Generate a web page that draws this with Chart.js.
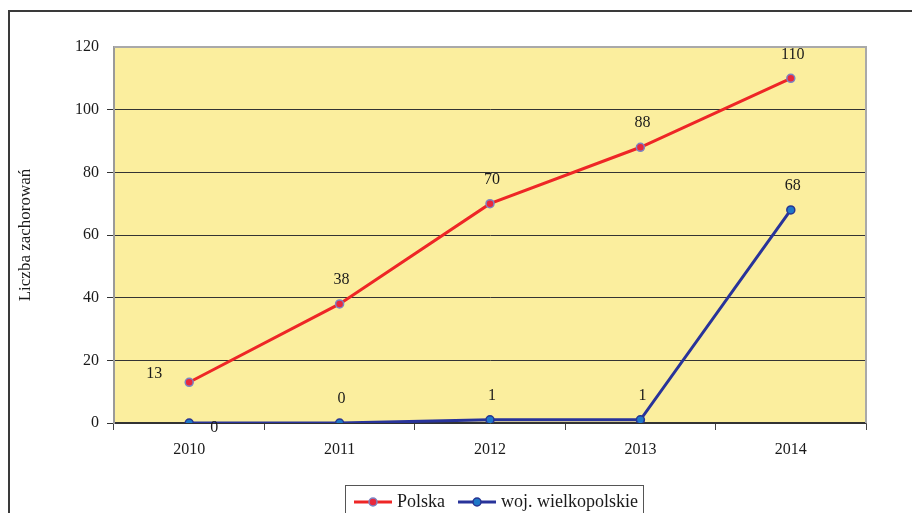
<!DOCTYPE html>
<html>
<head>
<meta charset="utf-8">
<script src="https://cdn.jsdelivr.net/npm/chart.js@4/dist/chart.umd.min.js"></script>
<style>
  html,body{margin:0;padding:0;background:#fff;overflow:hidden}
  #wrap{position:relative;width:912px;height:513px}
  #frame{position:absolute;left:8px;top:10px;width:1000px;height:600px;border:2px solid #3a3a3a;box-sizing:border-box}
  #c{position:absolute;left:0;top:0}
</style>
</head>
<body>
<div id="wrap">
  <div id="frame"></div>
  <canvas id="c" width="912" height="513"></canvas>
</div>
<script>
const years = ['2010','2011','2012','2013','2014'];
const polska = [13, 38, 70, 88, 110];
const wielkopolskie = [0, 0, 1, 1, 68];
const yTicks = [0, 20, 40, 60, 80, 100, 120];

const SERIF = "'Liberation Serif','Times New Roman',serif";
const PLOT_BG = '#fbee9e';

// tło obszaru wykresu + szara ramka góra/prawo
const plotBg = {
  id:'plotBg',
  beforeDraw(chart){
    const {ctx, chartArea:a} = chart;
    ctx.save();
    ctx.fillStyle = PLOT_BG;
    ctx.fillRect(a.left, a.top, a.right-a.left, a.bottom-a.top);
    ctx.restore();
  },
  beforeDatasetsDraw(chart){
    const {ctx, chartArea:a} = chart;
    ctx.save();
    ctx.strokeStyle = '#a9a9a9';
    ctx.lineWidth = 2;
    ctx.beginPath();
    ctx.moveTo(a.left, a.top);
    ctx.lineTo(a.right, a.top);
    ctx.lineTo(a.right, a.bottom);
    ctx.stroke();
    ctx.restore();
  }
};

// etykiety wartości nad punktami
const valueLabels = {
  id:'valueLabels',
  afterDatasetsDraw(chart){
    const {ctx} = chart;
    ctx.save();
    ctx.font = '16px ' + SERIF;
    ctx.fillStyle = '#1a1a1a';
    ctx.textAlign = 'center';
    ctx.textBaseline = 'middle';
    chart.data.datasets.forEach((ds, di)=>{
      chart.getDatasetMeta(di).data.forEach((pt, i)=>{
        let dx = 2, dy = -24;
        if(di===0 && i===0){ dx = -35; dy = -8; }   // 13 – obok punktu, z lewej
        if(di===1 && i===0){ dx = 25; dy = 5; }     // 0 – pod osią
        ctx.fillText(String(ds.data[i]), pt.x + dx, pt.y + dy);
      });
    });
    ctx.restore();
  }
};

// legenda w ramce pod wykresem
const boxLegend = {
  id:'boxLegend',
  afterDraw(chart){
    const {ctx} = chart;
    const x0 = 345, y0 = 485, w = 298, h = 40, cy = 502;
    ctx.save();
    ctx.fillStyle = '#fff';
    ctx.fillRect(x0, y0, w, h);
    ctx.strokeStyle = '#555';
    ctx.lineWidth = 1;
    ctx.strokeRect(x0+0.5, y0+0.5, w, h);
    ctx.font = '18px ' + SERIF;
    ctx.textBaseline = 'middle';
    let x = x0 + 9;
    chart.data.datasets.forEach(ds=>{
      ctx.strokeStyle = ds.borderColor;
      ctx.lineWidth = 3;
      ctx.beginPath(); ctx.moveTo(x, cy); ctx.lineTo(x+38, cy); ctx.stroke();
      ctx.beginPath(); ctx.arc(x+19, cy, 4, 0, Math.PI*2);
      ctx.fillStyle = ds.pointBackgroundColor; ctx.fill();
      ctx.lineWidth = 1.5; ctx.strokeStyle = ds.pointBorderColor; ctx.stroke();
      ctx.fillStyle = '#1a1a1a';
      ctx.fillText(ds.label, x+43, cy);
      x += 43 + ctx.measureText(ds.label).width + 13;
    });
    ctx.restore();
  }
};

new Chart(document.getElementById('c'), {
  type:'line',
  data:{
    labels: years,
    datasets:[
      {label:'Polska', data: polska, borderColor:'#ee2626', borderWidth:3,
       pointRadius:4, pointHoverRadius:4, pointBackgroundColor:'#e8283c',
       pointBorderColor:'#7b84c4', pointBorderWidth:1.5, tension:0},
      {label:'woj. wielkopolskie', data: wielkopolskie, borderColor:'#28339a', borderWidth:3,
       pointRadius:4, pointHoverRadius:4, pointBackgroundColor:'#1e78c8',
       pointBorderColor:'#283593', pointBorderWidth:1.5, tension:0}
    ]
  },
  options:{
    responsive:false,
    animation:false,
    devicePixelRatio:1,
    layout:{padding:{left:0, top:47, right:46, bottom:50}},
    plugins:{legend:{display:false}, tooltip:{enabled:false}},
    scales:{
      x:{
        offset:true,
        grid:{drawOnChartArea:false, offset:true, tickLength:7, color:'#444'},
        border:{color:'#333', width:1.5},
        ticks:{font:{family:SERIF, size:16}, color:'#1a1a1a', padding:10, maxRotation:0},
        afterFit(s){ s.height = 40; }
      },
      y:{
        min:0, max:120,
        afterBuildTicks(s){ s.ticks = yTicks.map(v=>({value:v})); },
        grid:{tickLength:7, color:c=> c.tick && c.tick.value===120 ? 'rgba(0,0,0,0)' : '#333', lineWidth:1},
        border:{color:'#9a9a9a', width:2},
        ticks:{font:{family:SERIF, size:16}, color:'#1a1a1a', padding:8},
        title:{display:true, text:'Liczba zachorowań', font:{family:SERIF, size:17}, color:'#1a1a1a', padding:{top:15, bottom:0}},
        afterFit(s){ s.width = 114; }
      }
    }
  },
  plugins:[plotBg, valueLabels, boxLegend]
});
</script>
</body>
</html>
